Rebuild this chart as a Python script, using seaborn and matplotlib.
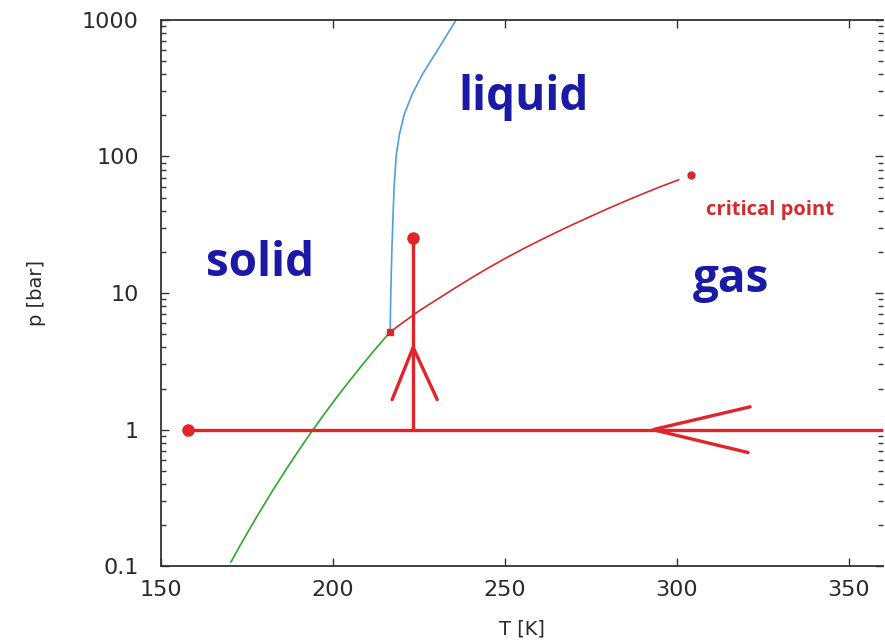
import numpy as np
import pandas as pd
import matplotlib
matplotlib.use("Agg")
import matplotlib.pyplot as plt
import seaborn as sns
from matplotlib.ticker import FixedLocator, LogLocator, NullFormatter, NullLocator

# ---------------- data ----------------
# melting curve (solid-liquid)
melt_T = [216.6, 216.8, 217.1, 217.5, 217.8, 218.4, 219.3, 220.7, 223.0, 226.0, 230.9, 235.8]
melt_p = [5.18, 10.0, 20.0, 40.0, 62.0, 103.0, 145.0, 203.0, 285.0, 400.0, 630.0, 1000.0]
# vapour pressure curve (liquid-gas)
vap_T = [216.6, 220.0, 225.0, 230.0, 235.0, 240.0, 245.0, 250.0, 255.0, 260.0, 265.0,
         270.0, 275.0, 280.0, 285.0, 290.0, 295.0, 300.5]
vap_p = [5.18, 6.0, 7.4, 8.9, 10.7, 12.8, 15.2, 17.9, 20.9, 24.2, 27.9,
         32.0, 36.5, 41.6, 47.1, 53.2, 59.8, 67.5]
# sublimation curve (solid-gas)
sub_T = [170.3, 172.5, 175.0, 177.5, 180.0, 182.5, 185.0, 187.5, 190.0, 192.5, 194.2,
         197.5, 200.0, 202.5, 205.0, 207.5, 210.0, 212.5, 215.0, 216.6]
sub_p = [0.107, 0.135, 0.174, 0.223, 0.284, 0.360, 0.452, 0.566, 0.703, 0.868, 1.00,
         1.305, 1.586, 1.92, 2.31, 2.77, 3.31, 3.94, 4.66, 5.18]
triple_T, triple_p = [216.6], [5.18]
crit_T, crit_p = [304.1], [73.8]

# hand-drawn red path: isobar at 1 bar and vertical line
iso_T = [157.8, 365.0]
iso_p = [1.0, 1.0]
iso_head_T = [321.3, 293.0, 320.7]
iso_head_p = [1.47, 1.0, 0.68]
vert_T = [223.3, 223.3]
vert_p = [1.0, 25.1]
vert_head_T = [217.2, 223.3, 230.3]
vert_head_p = [1.66, 4.0, 1.66]

phase_labels = ["liquid", "solid", "gas"]
phase_T = [255.5, 178.7, 315.8]
phase_p = [270.0, 16.4, 12.6]

x_ticks = [150, 200, 250, 300, 350]
y_ticks = [0.1, 1, 10, 100, 1000]
y_tick_labels = ["0.1", "1", "10", "100", "1000"]

# ---------------- plot ----------------
sns.set_theme(style="white")
plt.rcParams["font.family"] = ["DejaVu Sans"]

fig = plt.figure(figsize=(8.85, 6.42), dpi=100)
ax = fig.add_axes([0.182, 0.118, 0.816, 0.851])

BLUE = "#4f9ee0"
GREEN = "#2fa52f"
RED = "#d42a2e"
ARROW = "#e0242a"
NAVY = "#1a1aa6"

sns.lineplot(x=melt_T, y=melt_p, ax=ax, color=BLUE, lw=1.2, sort=False)
sns.lineplot(x=vap_T, y=vap_p, ax=ax, color=RED, lw=1.2, sort=False)
sns.lineplot(x=sub_T, y=sub_p, ax=ax, color=GREEN, lw=1.2, sort=False)
ax.plot(triple_T, triple_p, "s", color=RED, ms=5)
ax.plot(crit_T, crit_p, "o", color=RED, ms=5)

LW = 2.4
ax.plot(iso_T, iso_p, color=ARROW, lw=LW, solid_capstyle="butt")
ax.plot(iso_T[:1], iso_p[:1], "o", color=ARROW, ms=8)
ax.plot(iso_head_T, iso_head_p, color=ARROW, lw=LW, solid_joinstyle="miter")
ax.plot(vert_T, vert_p, color=ARROW, lw=LW)
ax.plot(vert_T[1:], vert_p[1:], "o", color=ARROW, ms=8)
ax.plot(vert_head_T, vert_head_p, color=ARROW, lw=LW, solid_joinstyle="miter")

for lab, t, p in zip(phase_labels, phase_T, phase_p):
    ax.text(t, p, lab, color=NAVY, fontsize=33, fontweight="bold",
            family=["Open Sans", "DejaVu Sans"], ha="center", va="center")
ax.text(308.5, 40.5, "critical point", color=RED, fontsize=14.5, fontweight="bold",
        family=["Open Sans", "DejaVu Sans"], ha="left", va="center")

ax.set_yscale("log")
ax.set_xlim(150, 360)
ax.set_ylim(0.1, 1000)
ax.xaxis.set_major_locator(FixedLocator(x_ticks))
ax.xaxis.set_minor_locator(NullLocator())
ax.yaxis.set_major_locator(FixedLocator(y_ticks))
ax.set_yticklabels(y_tick_labels)
ax.yaxis.set_minor_locator(LogLocator(base=10, subs=np.arange(2, 10)))
ax.yaxis.set_minor_formatter(NullFormatter())

ax.tick_params(which="both", direction="in", top=True, right=True,
               bottom=True, left=True, colors="#333333", labelcolor="#2a2a2a")
ax.tick_params(which="major", length=6, width=1, labelsize=16, pad=10)
ax.tick_params(axis="y", which="major", pad=16)
ax.tick_params(which="minor", length=3.5, width=1)

for s in ["left", "top", "bottom"]:
    ax.spines[s].set_visible(True)
    ax.spines[s].set_color("#333333")
    ax.spines[s].set_linewidth(1.3)
ax.spines["right"].set_visible(False)

ax.set_xlabel("T [K]", fontsize=14, color="#2a2a2a", labelpad=14)
ax.set_ylabel("p [bar]", fontsize=14, color="#2a2a2a", labelpad=26)

fig.savefig("out.png", dpi=100)
